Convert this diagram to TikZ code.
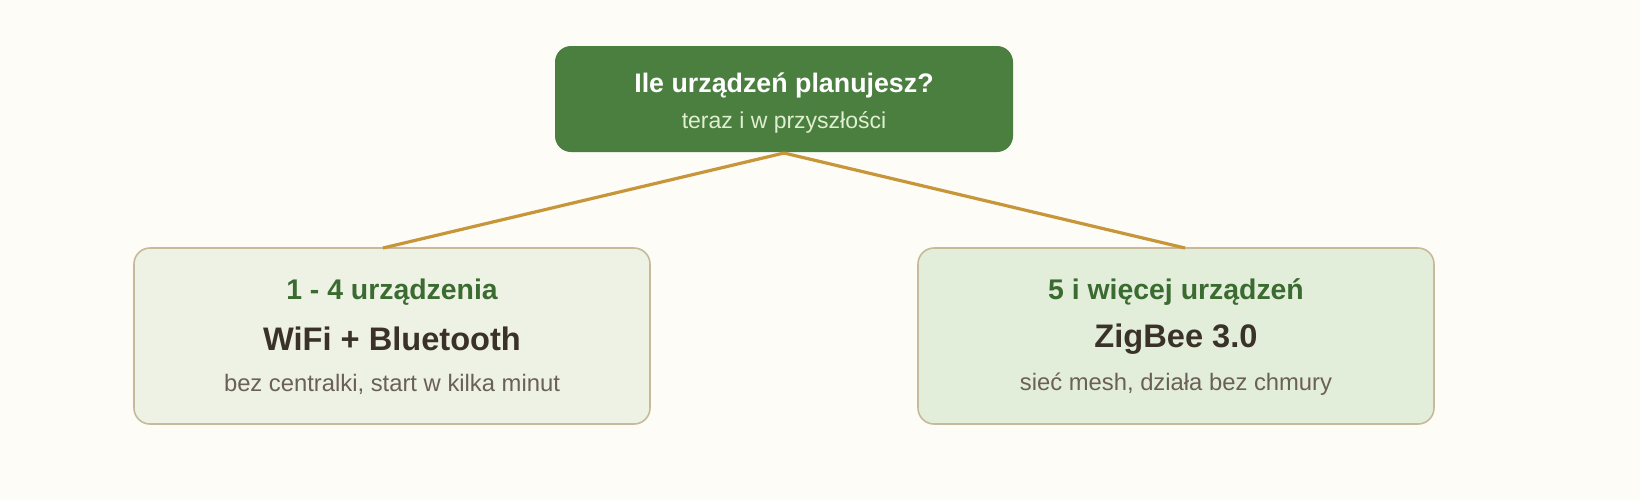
\documentclass[tikz,border=0pt]{standalone}
\usepackage{fontspec}
\setmainfont{Liberation Sans}
\definecolor{bg}{HTML}{FDFCF6}
\definecolor{topfill}{HTML}{4A7F40}
\definecolor{topsub}{HTML}{E0EFCF}
\definecolor{lfill}{HTML}{EEF2E4}
\definecolor{rfill}{HTML}{E2EEDA}
\definecolor{bord}{HTML}{C8B99A}
\definecolor{gtext}{HTML}{3A6B30}
\definecolor{dtext}{HTML}{3A3228}
\definecolor{stext}{HTML}{6A6055}
\definecolor{conn}{HTML}{C8963A}
\begin{document}
\begin{tikzpicture}[x=0.5pt,y=-0.5pt,
  topbox/.style={fill=topfill,rounded corners=8pt,minimum width=229pt,minimum height=53pt,inner sep=0pt},
  choice/.style={draw=bord,line width=0.8pt,rounded corners=8pt,minimum width=258pt,minimum height=88pt,inner sep=0pt},
  link/.style={draw=conn,line width=1.6pt}]
\fill[bg] (0,0) rectangle (1640,500);
\useasboundingbox (0,0) rectangle (1640,500);
\node[topbox] (q) at (784,99) {};
\node[font=\bfseries\fontsize{13.4}{16}\selectfont,text=white] (qt) at (784,85) {Ile urządzeń planujesz?};
\node[font=\fontsize{11.5}{14}\selectfont,text=topsub] (qs) at (784,122) {teraz i w przyszłości};
\node[choice,fill=lfill] (l) at (392,336) {};
\node[choice,fill=rfill] (r) at (1176,336) {};
\node[font=\bfseries\fontsize{14.2}{17}\selectfont,text=gtext] (lh) at (392,292) {1 - 4 urządzenia};
\node[font=\bfseries\fontsize{16.3}{20}\selectfont,text=dtext] (lm) at (392,339) {WiFi + Bluetooth};
\node[font=\fontsize{11.9}{14}\selectfont,text=stext] (ls) at (392,384) {bez centralki, start w kilka minut};
\node[font=\bfseries\fontsize{14.2}{17}\selectfont,text=gtext] (rh) at (1176,292) {5 i więcej urządzeń};
\node[font=\bfseries\fontsize{16.3}{20}\selectfont,text=dtext] (rm) at (1176,339) {ZigBee 3.0};
\node[font=\fontsize{11.9}{14}\selectfont,text=stext] (rs) at (1176,384) {sieć mesh, działa bez chmury};
\coordinate (qb) at (784,153);
\coordinate (lt) at (383,248);
\coordinate (rt) at (1185,248);
\draw[link] (qb) -- (lt);
\draw[link] (qb) -- (rt);
\end{tikzpicture}
\end{document}
